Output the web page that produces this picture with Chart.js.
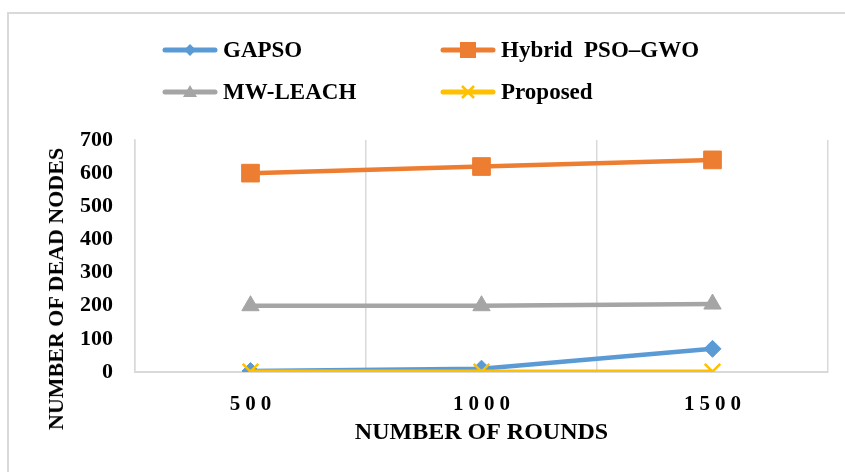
<!DOCTYPE html>
<html>
<head>
<meta charset="utf-8">
<script src="https://cdn.jsdelivr.net/npm/chart.js@4.4.1/dist/chart.umd.min.js"></script>
<style>
body { margin: 0; background: #fff; }
#wrap { position: relative; width: 845px; height: 472px; overflow: hidden; }
#frame { position: absolute; left: 7px; top: 12px; width: 900px; height: 500px; border: 2px solid #d9d9d9; }
#myChart { position: absolute; left: 0; top: 0; }
.legend-item { position: absolute; display: flex; align-items: center; transform: translateY(-50%);
  font: bold 23px "Liberation Serif", serif; color: #000; white-space: nowrap; }
.legend-item svg { margin-right: 5px; }
#ytitle { position: absolute; left: 56px; top: 289px; transform: translate(-50%, -50%) rotate(-90deg);
  font: bold 22px "Liberation Serif", serif; color: #000; white-space: nowrap; }
</style>
</head>
<body>
<div id="wrap">
  <div id="frame"></div>
  <canvas id="myChart" width="845" height="472"></canvas>
  <div id="legend"></div>
  <div id="ytitle">NUMBER OF DEAD NODES</div>
</div>
<script>
// data
const rounds = ['500', '1000', '1500'];
const gapso = [3, 10, 70];
const hybrid = [600, 620, 640];
const mwLeach = [200, 200, 205];
const proposed = [1, 1, 1];

const seriesNames = ['GAPSO', 'Hybrid  PSO\u2013GWO', 'MW-LEACH', 'Proposed'];
const colors = ['#5B9BD5', '#ED7D31', '#A5A5A5', '#FFC000'];
const font = '"Liberation Serif", serif';

function makeSet(i, values, style, radius) {
    return {
        label: seriesNames[i],
        data: values,
        borderColor: colors[i],
        backgroundColor: colors[i],
        borderWidth: 4.5,
        pointStyle: style,
        pointRadius: radius,
        pointBackgroundColor: colors[i],
        pointBorderColor: colors[i],
        pointBorderWidth: style === 'crossRot' ? 2.5 : 1,
        tension: 0,
        fill: false
    };
}

const datasets = [
    makeSet(0, gapso, 'rectRot', 8.5),
    makeSet(1, hybrid, 'rect', 12.5),
    makeSet(2, mwLeach, 'triangle', 10),
    makeSet(3, proposed, 'crossRot', 11)
];
// proposed drawn on top like the original
datasets[0].order = 2;
datasets[1].order = 3;
datasets[2].order = 4;
datasets[3].order = 1;

const ctx = document.getElementById('myChart').getContext('2d');
const myChart = new Chart(ctx, {
    type: 'line',
    data: { labels: rounds, datasets: datasets },
    options: {
        responsive: false,
        animation: false,
        layout: { padding: { left: 0, right: 17, top: 140, bottom: 0 } },
        plugins: {
            legend: { display: false },
            tooltip: { enabled: false }
        },
        scales: {
            x: {
                offset: true,
                grid: { offset: true, color: '#d9d9d9', lineWidth: 1.5, drawTicks: false },
                border: { color: '#d9d9d9', width: 2 },
                ticks: { color: '#000', padding: 20, font: { family: font, size: 21, weight: 'bold' } },
                title: {
                    display: true,
                    text: 'NUMBER OF ROUNDS',
                    color: '#000',
                    font: { family: font, size: 24, weight: 'bold' },
                    padding: { top: 0, bottom: 25 }
                },
                afterFit: (scale) => { scale.height = 100; }
            },
            y: {
                min: 0,
                max: 700,
                grid: { display: false, drawTicks: false },
                border: { color: '#d9d9d9', width: 1.5 },
                ticks: { stepSize: 100, color: '#000', padding: 22, font: { family: font, size: 22, weight: 'bold' } },
                afterFit: (scale) => { scale.width = 135; }
            }
        }
    }
});

// the x tick labels are letter-spaced in the original
const xScale = myChart.scales.x;
const drawXLabels = xScale.drawLabels.bind(xScale);
xScale.drawLabels = function (area) {
    ctx.save();
    ctx.letterSpacing = '5px';
    ctx.translate(2.5, 0);
    drawXLabels(area);
    ctx.restore();
};
myChart.draw();

// legend in two columns like the original
const legendPos = [[162, 50], [440, 50], [162, 92], [440, 92]];
function markerSvg(style, color) {
    let m = '';
    if (style === 'rectRot') m = `<polygon points="28,4 34,10 28,16 22,10" fill="${color}"/>`;
    if (style === 'rect') m = `<rect x="20" y="2" width="16" height="16" fill="${color}"/>`;
    if (style === 'triangle') m = `<polygon points="28,3 35,15 21,15" fill="${color}"/>`;
    if (style === 'crossRot') m = `<path d="M22,4 L34,16 M34,4 L22,16" stroke="${color}" stroke-width="2.5"/>`;
    return `<svg width="56" height="20"><line x1="3" y1="10" x2="53" y2="10" stroke="${color}" stroke-width="5" stroke-linecap="round"/>${m}</svg>`;
}
let legendHtml = '';
datasets.forEach(function (ds, i) {
    legendHtml += `<div class="legend-item" style="left:${legendPos[i][0]}px;top:${legendPos[i][1]}px">`;
    legendHtml += markerSvg(ds.pointStyle, ds.borderColor);
    legendHtml += `<span>${ds.label.replace('  ', '&nbsp; ')}</span></div>`;
});
document.getElementById('legend').innerHTML = legendHtml;
</script>
</body>
</html>
